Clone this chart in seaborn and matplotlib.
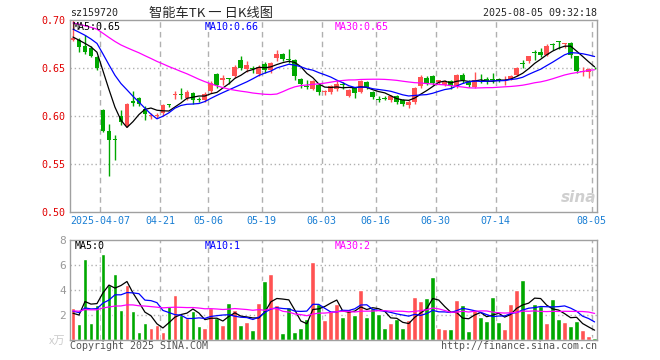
import numpy as np
import pandas as pd
import matplotlib
matplotlib.use("Agg")
import matplotlib.pyplot as plt
import seaborn as sns

# daily bars of sz159720, 2025-03-28 .. 2025-08-05 (88 trading days)
opens = [0.679, 0.679, 0.673, 0.671, 0.661, 0.606, 0.584, 0.576, 0.600, 0.590,
         0.616, 0.619, 0.607, 0.600, 0.600, 0.603, 0.612, 0.622, 0.623, 0.619,
         0.624, 0.618, 0.617, 0.626, 0.644, 0.638, 0.640, 0.642, 0.658, 0.649,
         0.650, 0.644, 0.654, 0.648, 0.660, 0.665, 0.659, 0.658, 0.639, 0.631,
         0.628, 0.632, 0.625, 0.625, 0.628, 0.633, 0.621, 0.629, 0.625, 0.635,
         0.625, 0.618, 0.618, 0.617, 0.621, 0.617, 0.6115, 0.615, 0.631, 0.640,
         0.642, 0.635, 0.632, 0.636, 0.631, 0.643, 0.635, 0.630, 0.638, 0.639,
         0.639, 0.639, 0.637, 0.639, 0.643, 0.655, 0.657, 0.666, 0.667, 0.664,
         0.675, 0.6775, 0.6755, 0.676, 0.6625, 0.646, 0.646, 0.650]
highs = [0.700, 0.681, 0.684, 0.673, 0.662, 0.607, 0.592, 0.580, 0.606, 0.614,
         0.626, 0.620, 0.610, 0.603, 0.603, 0.612, 0.613, 0.6265, 0.629, 0.627,
         0.625, 0.620, 0.625, 0.636, 0.645, 0.643, 0.640, 0.653, 0.662, 0.657,
         0.652, 0.653, 0.656, 0.656, 0.669, 0.666, 0.670, 0.659, 0.640, 0.637,
         0.638, 0.634, 0.627, 0.632, 0.637, 0.635, 0.628, 0.630, 0.637, 0.636,
         0.626, 0.621, 0.621, 0.622, 0.622, 0.618, 0.617, 0.630, 0.643, 0.642,
         0.643, 0.638, 0.637, 0.637, 0.644, 0.645, 0.637, 0.646, 0.644, 0.641,
         0.645, 0.640, 0.642, 0.643, 0.651, 0.658, 0.663, 0.669, 0.671, 0.675,
         0.676, 0.678, 0.676, 0.677, 0.663, 0.6507, 0.650, 0.651]
lows = [0.678, 0.667, 0.665, 0.661, 0.648, 0.583, 0.537, 0.554, 0.591, 0.589,
        0.610, 0.610, 0.596, 0.597, 0.598, 0.600, 0.609, 0.618, 0.618, 0.617,
        0.613, 0.615, 0.615, 0.624, 0.629, 0.632, 0.633, 0.640, 0.648, 0.646,
        0.645, 0.642, 0.645, 0.645, 0.657, 0.657, 0.655, 0.637, 0.629, 0.628,
        0.627, 0.622, 0.622, 0.623, 0.626, 0.628, 0.620, 0.619, 0.624, 0.628,
        0.618, 0.615, 0.617, 0.615, 0.613, 0.610, 0.608, 0.613, 0.629, 0.632,
        0.632, 0.633, 0.631, 0.628, 0.629, 0.634, 0.630, 0.629, 0.634, 0.633,
        0.634, 0.635, 0.632, 0.638, 0.642, 0.650, 0.655, 0.658, 0.661, 0.663,
        0.669, 0.670, 0.671, 0.660, 0.645, 0.642, 0.640, 0.649]
closes = [0.681, 0.672, 0.667, 0.662, 0.650, 0.584, 0.575, 0.575, 0.594, 0.6125,
          0.614, 0.612, 0.602, 0.601, 0.601, 0.611, 0.611, 0.623, 0.622, 0.625,
          0.617, 0.617, 0.623, 0.634, 0.632, 0.640, 0.639, 0.651, 0.650, 0.653,
          0.649, 0.651, 0.648, 0.655, 0.665, 0.659, 0.658, 0.642, 0.633, 0.630,
          0.6365, 0.625, 0.626, 0.631, 0.633, 0.632, 0.627, 0.624, 0.636, 0.630,
          0.620, 0.617, 0.6175, 0.621, 0.615, 0.613, 0.615, 0.6295, 0.641, 0.634,
          0.634, 0.637, 0.636, 0.631, 0.643, 0.638, 0.632, 0.638, 0.637, 0.636,
          0.638, 0.638, 0.638, 0.642, 0.650, 0.6545, 0.662, 0.6655, 0.6635, 0.673,
          0.674, 0.677, 0.676, 0.664, 0.647, 0.6465, 0.649, 0.6495]
volumes = [2.6, 1.29, 6.5, 1.37, 2.8, 6.9, 4.4, 5.3, 2.4, 4.4,
           2.33, 0.64, 1.37, 0.96, 1.18, 0.67, 2.73, 3.6, 2.0, 1.74,
           2.33, 1.12, 0.96, 2.54, 1.77, 1.2, 2.97, 2.4, 1.2, 1.45,
           0.8, 2.97, 4.74, 5.3, 2.8, 0.56, 2.65, 0.64, 0.96, 1.69,
           6.27, 2.89, 1.6, 2.33, 2.89, 1.85, 2.49, 2.0, 4.0, 1.85,
           2.57, 2.09, 0.96, 1.37, 1.69, 0.96, 1.6, 3.45, 3.13, 3.37,
           5.06, 0.96, 0.88, 0.88, 3.21, 2.81, 0.72, 2.41, 1.85, 1.53,
           3.45, 1.45, 0.88, 2.89, 4.0, 4.8, 2.17, 2.89, 2.73, 1.37,
           3.29, 1.69, 1.45, 1.12, 1.53, 0.8, 0.32, 0.16]

# days before the window, estimated so the moving averages start where the chart shows them
prior_closes = [0.712, 0.715, 0.710, 0.708, 0.712, 0.706, 0.700, 0.703, 0.698,
                0.695, 0.690, 0.693, 0.688, 0.692,
                0.690, 0.694, 0.697, 0.700, 0.698, 0.702,
                0.703, 0.699, 0.701, 0.696, 0.694,
                0.688, 0.684, 0.680, 0.678]
prior_volumes = [2.1, 2.6, 1.9, 2.8, 2.4, 2.2, 3.0, 2.1, 1.8, 2.5,
                 2.7, 2.0, 2.3, 2.6, 2.2, 1.9, 2.9, 2.4, 2.3, 2.2,
                 2.3, 2.8, 2.2, 2.6, 2.4,
                 2.0, 1.1, 2.4, 2.6]

date_pos = [5, 15, 23, 32, 42, 51, 61, 71, 87]
date_labels = ["2025-04-07", "04-21", "05-06", "05-19", "06-03",
               "06-16", "06-30", "07-14", "08-05"]

RED = "#ff5252"
GREEN = "#00a800"
MA_COLORS = {5: "black", 10: "#0000ff", 30: "#ff00ff"}
MONO = "DejaVu Sans Mono"
CJK = ["Noto Sans CJK SC", "DejaVu Sans"]
W, H = 660, 360


def px(x, y):
    return x / W, 1 - y / H


df = pd.DataFrame({"open": opens, "high": highs, "low": lows,
                   "close": closes, "volume": volumes})
df["idx"] = np.arange(len(df))
df["dir"] = np.where(df["close"] >= df["open"], "up", "down")
n_prior = len(prior_closes)
all_close = pd.Series(prior_closes + closes)
all_vol = pd.Series(prior_volumes + volumes)
for k in (5, 10, 30):
    df[f"ma{k}"] = all_close.rolling(k).mean().iloc[n_prior:].values
    df[f"vma{k}"] = all_vol.rolling(k).mean().iloc[n_prior:].values

sns.set_style("white")
plt.rcParams["font.family"] = [MONO]

fig = plt.figure(figsize=(6.6, 3.6), dpi=100)
ax = fig.add_axes([70 / W, 1 - 212 / H, 527 / W, 192 / H])
axv = fig.add_axes([70 / W, 20 / H, 527 / W, 100 / H])

# candles
colors = np.where(df["dir"] == "up", RED, GREEN)
ax.vlines(df["idx"], df["low"], df["high"], colors=colors, lw=1, zorder=2)
body_lo = np.minimum(df["open"], df["close"])
body_h = np.maximum((df["close"] - df["open"]).abs(), 0.0009)
ax.bar(df["idx"], body_h, bottom=body_lo, width=0.8, color=colors,
       linewidth=0, zorder=2)
for k, c in MA_COLORS.items():
    sns.lineplot(data=df, x="idx", y=f"ma{k}", ax=ax, color=c, lw=0.9,
                 zorder=3)

# volume
sns.barplot(data=df, x="idx", y="volume", hue="dir",
            palette={"up": RED, "down": GREEN}, dodge=False, width=0.8,
            saturation=1, legend=False, ax=axv, zorder=2)
for k, c in MA_COLORS.items():
    sns.lineplot(data=df, x="idx", y=f"vma{k}", ax=axv, color=c, lw=0.9,
                 zorder=3)

for a in (ax, axv):
    a.set_xlim(-0.5, 87.4)
    a.set_xlabel("")
    a.set_ylabel("")
    for p in date_pos:
        a.axvline(p - 0.5, color="#b0b0b0", lw=1, ls=(0, (4, 3)), zorder=1)
    for s in a.spines.values():
        s.set_color("#a0a0a0")
        s.set_linewidth(1)
    a.tick_params(length=0, labelsize=7.2)

ax.set_ylim(0.50, 0.70)
for y in (0.55, 0.60, 0.65):
    ax.axhline(y, color="#b0b0b0", lw=1, ls=(0, (1, 2)), zorder=1)
ax.set_yticks([0.50, 0.55, 0.60, 0.65, 0.70])
ax.set_yticklabels([f"{v:.2f}" for v in [0.50, 0.55, 0.60, 0.65, 0.70]])
ax.tick_params(axis="y", colors="#e00000", pad=3)
ax.set_xticks([p - 0.5 for p in date_pos])
ax.set_xticklabels(date_labels)
ax.tick_params(axis="x", colors="#1a7fd4", pad=3)

axv.set_ylim(0, 8)
for y in (2, 4, 6):
    axv.axhline(y, color="#b0b0b0", lw=1, ls=(0, (1, 2)), zorder=1)
axv.set_yticks([0, 2, 4, 6, 8])
axv.set_yticklabels(["x万", "2", "4", "6", "8"])
axv.tick_params(axis="y", colors="#999999", pad=3, labelsize=8)
axv.get_yticklabels()[0].set_family(CJK)
axv.get_yticklabels()[0].set_color("#cccccc")
axv.set_xticks([])

# header texts
fig.text(*px(70, 13), "sz159720", fontsize=7.2, va="center", ha="left")
fig.text(*px(211, 13), "智能车TK 一 日K线图", family=CJK, fontsize=9.5,
         va="center", ha="center")
fig.text(*px(597, 13), "2025-08-05 09:32:18", fontsize=7.2, va="center",
         ha="right")
for x, t, c in [(73, "MA5:0.65", "black"), (205, "MA10:0.66", "#0000ff"),
                (335, "MA30:0.65", "#ff00ff")]:
    fig.text(*px(x, 27), t, fontsize=7.2, color=c, va="center", ha="left")
for x, t, c in [(75, "MA5:0", "black"), (205, "MA10:1", "#0000ff"),
                (335, "MA30:2", "#ff00ff")]:
    fig.text(*px(x, 246), t, fontsize=7.2, color=c, va="center", ha="left")
fig.text(*px(70, 346), "Copyright 2025 SINA.COM", fontsize=7.2,
         color="#555555", va="center", ha="left")
fig.text(*px(597, 346), "http://finance.sina.com.cn", fontsize=7.2,
         color="#555555", va="center", ha="right")
fig.text(*px(596, 197), "sina", family="DejaVu Sans", fontsize=11,
         style="italic", weight="bold", color="#cfcfcf", va="center",
         ha="right")

fig.savefig("out.png", dpi=100, facecolor="white")
